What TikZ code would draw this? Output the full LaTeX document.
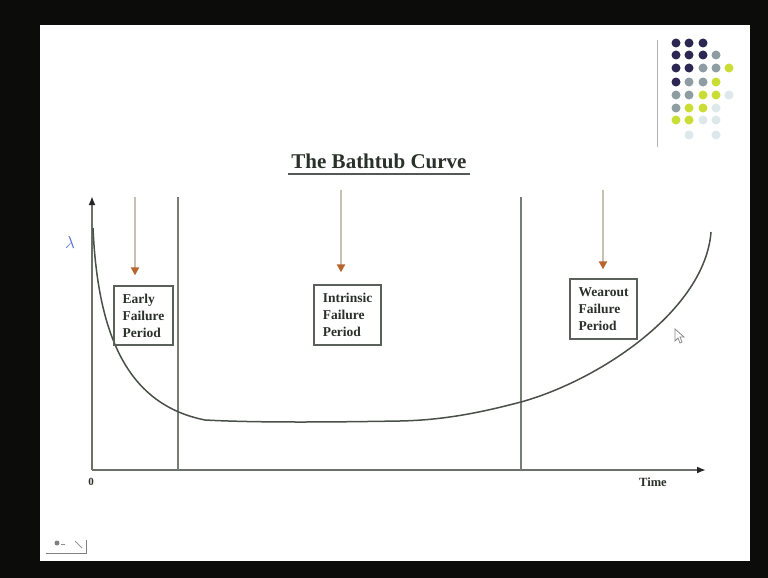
\documentclass[tikz,border=0pt]{standalone}
\usepackage{fontspec}
\setmainfont{Liberation Serif}
\usetikzlibrary{arrows.meta}
\definecolor{frame}{HTML}{0C0D0B}
\definecolor{axisc}{HTML}{6A716A}
\definecolor{linec}{HTML}{767C76}
\definecolor{curvec}{HTML}{485048}
\definecolor{boxc}{HTML}{5A605A}
\definecolor{shaftc}{HTML}{C9C0B2}
\definecolor{headc}{HTML}{B8652E}
\definecolor{navy}{HTML}{2B2752}
\definecolor{greyb}{HTML}{8D9DA2}
\definecolor{yg}{HTML}{CADD35}
\definecolor{lite}{HTML}{DDE8EA}
\definecolor{lam}{HTML}{4F6FD8}
\definecolor{txt}{HTML}{2A302A}
\tikzset{
  axisline/.style={draw=axisc, line width=2pt, -{Latex[length=9pt,width=7pt,color=black!85]}},
  phase/.style={draw=linec, line width=1.6pt},
  bathcurve/.style={draw=curvec, line width=1.5pt},
  periodbox/.style={draw=boxc, line width=1.3pt, align=left, text=txt, inner sep=0pt,
     font=\fontsize{13.5}{17}\selectfont\bfseries},
  pointer/.style={draw=shaftc, line width=2.2pt, -{Triangle[length=8pt,width=8pt,color=headc]}},
}
\begin{document}
\begin{tikzpicture}[x=1pt,y=-1pt]
\useasboundingbox (0,0) rectangle (768,578);
\fill[frame] (0,0) rectangle (768,578);
\fill[white] (40,25) rectangle (750,561);

% logo
\draw[draw=black!30, line width=1pt] (657,40) -- (657,147);
\foreach \c/\x/\y in {navy/676/43,navy/689/43,navy/703/43,
  navy/676/55,navy/689/55,navy/703/55,greyb/716/55,
  navy/676/68,navy/689/68,greyb/703/68,greyb/716/68,yg/729/68,
  navy/676/82,greyb/689/82,greyb/703/82,yg/716/82,
  greyb/676/95,greyb/689/95,yg/703/95,yg/716/95,lite/729/95,
  greyb/676/108,yg/689/108,yg/703/108,lite/716/108,
  yg/676/120,yg/689/120,lite/703/120,lite/716/120,
  lite/689/135,lite/716/135}
  \fill[\c] (\x,\y) circle (4.5pt);

% title
\node[anchor=base, text=txt, font=\fontsize{21}{24}\selectfont\bfseries] (title) at (379,168) {The Bathtub Curve};
\draw[draw=txt!80, line width=2pt] ([yshift=-5.5pt]title.base west) -- ([yshift=-5.5pt]title.base east);

% axes
\coordinate (O) at (92,470);
\coordinate (ytop) at (92,196);
\coordinate (xend) at (706,470);
\draw[axisline] (O) -- (ytop);
\draw[axisline] (O) -- (xend);
\node[font=\fontsize{11}{13}\selectfont\bfseries, text=txt] (zero) at (91,482) {0};
\node[font=\fontsize{12.5}{14}\selectfont\bfseries, text=txt] (time) at (653,482) {Time};
\node[font=\fontsize{19}{21}\selectfont, text=lam] (lambda) at (70,242) {$\lambda$};

% phase boundaries
\coordinate (b1top) at (178,197);
\coordinate (b1bot) at (178,470);
\coordinate (b2top) at (521,197);
\coordinate (b2bot) at (521,470);
\draw[phase] (b1top) -- (b1bot);
\draw[phase] (b2top) -- (b2bot);

% bathtub curve
\coordinate (c0) at (93,228);
\coordinate (c1) at (205,420);
\coordinate (c2) at (400,421);
\coordinate (c3) at (521,402);
\coordinate (c4) at (711,232);
\draw[bathcurve] (c0) .. controls (98,340) and (130,405) .. (c1)
  .. controls (260,423) and (340,422) .. (c2)
  .. controls (450,420) and (490,410) .. (c3)
  .. controls (600,380) and (705,310) .. (c4);

% period boxes
\node[periodbox, minimum width=59pt, minimum height=59pt] (early) at (143.5,315.5) {Early\\Failure\\Period};
\node[periodbox, minimum width=67pt, minimum height=60pt] (intr) at (347.5,315) {Intrinsic\\Failure\\Period};
\node[periodbox, minimum width=67pt, minimum height=60pt] (wear) at (603.5,309) {Wearout\\Failure\\Period};

% pointers
\coordinate (p1) at (135,197);
\coordinate (p2) at (341,190);
\coordinate (p3) at (603,190);
\draw[pointer, shorten >=10pt] (p1) -- (early.north -| p1);
\draw[pointer, shorten >=12pt] (p2) -- (intr.north -| p2);
\draw[pointer, shorten >=9pt] (p3) -- (wear.north -| p3);

% mouse cursor
\draw[draw=black!45, fill=white, line width=0.8pt] (675,329) -- (675,341) -- (678,338) -- (680,343) -- (682,342) -- (680,337) -- (684,337) -- cycle;

% navigation icon
\fill[black!50] (57,543) circle (2.5pt);
\draw[draw=black!45, line width=0.8pt] (61,544) -- (65,544);
\draw[draw=black!40, line width=0.8pt] (75,541) -- (82,548);
\draw[draw=black!50, line width=1pt] (46,553) -- (86,553) -- (86,540);
\end{tikzpicture}
\end{document}
